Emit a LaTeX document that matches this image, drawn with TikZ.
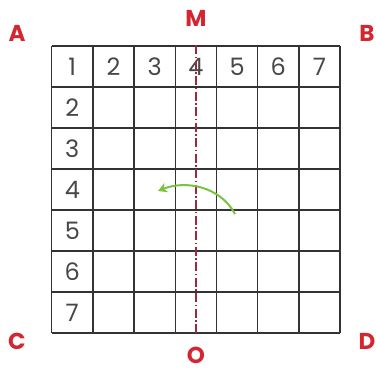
\documentclass[tikz,border=0pt]{standalone}
\usepackage{fontspec}
\usetikzlibrary{arrows.meta}
\setmainfont{Poppins}
\newfontfamily\lblfont{Poppins}
\definecolor{lblred}{HTML}{D42630}
\definecolor{axisred}{HTML}{A0283C}
\definecolor{arrgreen}{HTML}{7CC242}
\definecolor{gridc}{HTML}{333333}
\begin{document}
\begin{tikzpicture}[x=1pt,y=-1pt,
  gridline/.style={draw=gridc,line width=1.5pt},
  digit/.style={font=\fontsize{24}{24}\selectfont,text=gridc!90,inner sep=0pt},
  corner/.style={font=\lblfont\bfseries\fontsize{23}{23}\selectfont,text=lblred,inner sep=0pt},
  axis/.style={draw=axisred,line width=1.7pt,dash pattern=on 9pt off 2.5pt on 1.5pt off 2.5pt},
  turn/.style={draw=arrgreen,line width=2pt,-{Stealth[length=9pt,width=10pt]}}]
\useasboundingbox (0,0) rectangle (376,370);
\fill[white] (0,0) rectangle (376,370);
% grid
\foreach \i in {0,...,7}{
  \draw[gridline] ({51.7+41.2*\i},46) -- ({51.7+41.2*\i},333);
  \draw[gridline] (51.7,{46+41*\i}) -- (340,{46+41*\i});
}
% digits
\foreach \i in {1,...,7}{
  \node[digit] (t\i) at ({51.7+41.2*(\i-0.5)},67) {\i};
}
\foreach \i in {2,...,7}{
  \node[digit] (l\i) at (72.3,{46+41*(\i-0.5)}) {\i};
}
% axis
\coordinate (mtop) at (196,45);
\coordinate (mbot) at (196,333);
\draw[axis] (mtop) -- (mbot);
% labels
\node[corner] (M) at (196,18) {M};
\node[corner] (O) at (196,355) {O};
\node[corner] (A) at (17,33) {A};
\node[corner] (B) at (367,33) {B};
\node[corner] (C) at (17,341) {C};
\node[corner] (D) at (367,341) {D};
% arrow
\coordinate (as) at (235,214);
\coordinate (ae) at (158,191);
\draw[turn] (as) .. controls (220,186) and (185,180) .. (ae);
\end{tikzpicture}
\end{document}
